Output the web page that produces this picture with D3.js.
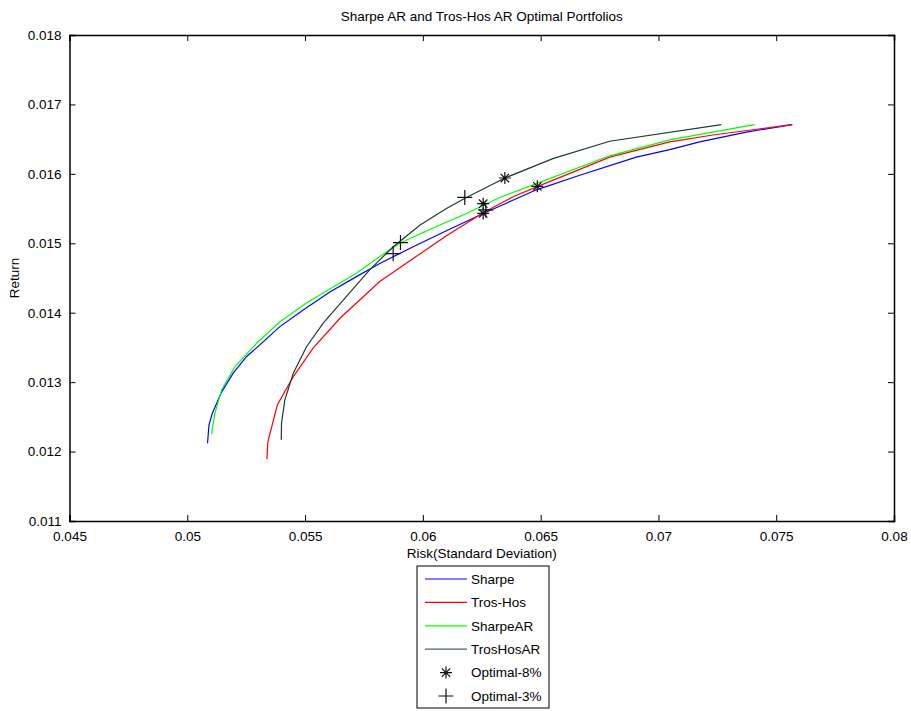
<!DOCTYPE html>
<html>
<head>
<meta charset="utf-8">
<script src="https://cdn.jsdelivr.net/npm/d3@7"></script>
<style>
  body { margin: 0; background: #fff; }
  text { font-family: "Liberation Sans", Arial, sans-serif; }
</style>
</head>
<body>
<div id="chart"></div>
<script>
// frontier curves: [risk, return]
const sharpe = [
  [0.05086, 0.01212], [0.05092, 0.01238], [0.05106, 0.01255], [0.05146, 0.01286],
  [0.05195, 0.01313], [0.05252, 0.01337], [0.05322, 0.01358], [0.05393, 0.0138],
  [0.05492, 0.01404], [0.05605, 0.0143], [0.05718, 0.01452], [0.05817, 0.01471],
  [0.05959, 0.01495], [0.06100, 0.01518], [0.06256, 0.01543], [0.06482, 0.01577],
  [0.06666, 0.01598], [0.06906, 0.01624], [0.07048, 0.01635], [0.07175, 0.01646],
  [0.07373, 0.0166], [0.07568, 0.01671]
];
const trosHos = [
  [0.05338, 0.01189], [0.05342, 0.01214], [0.05382, 0.01267], [0.0545, 0.01308],
  [0.05534, 0.01349], [0.05648, 0.01392], [0.05817, 0.01445], [0.05959, 0.01478],
  [0.061, 0.01511], [0.06256, 0.01544], [0.06383, 0.01567], [0.06496, 0.01583],
  [0.06793, 0.01624], [0.07048, 0.01646], [0.07231, 0.01656], [0.07568, 0.01671]
];
const sharpeAR = [
  [0.05103, 0.01225], [0.05117, 0.01255], [0.05146, 0.01289], [0.05202, 0.01322],
  [0.05294, 0.01356], [0.05393, 0.01387], [0.05506, 0.01414], [0.05605, 0.01434],
  [0.05718, 0.01457], [0.05817, 0.01481], [0.05902, 0.0150], [0.06043, 0.01522],
  [0.06185, 0.01543], [0.06326, 0.01566], [0.06482, 0.01586], [0.06793, 0.01626],
  [0.07048, 0.01649], [0.07408, 0.01671]
];
const trosHosAR = [
  [0.05399, 0.01217], [0.05400, 0.01241], [0.05414, 0.01274], [0.0545, 0.01313],
  [0.05506, 0.01351], [0.05577, 0.01385], [0.05662, 0.01418], [0.05775, 0.01462],
  [0.05874, 0.01495], [0.05987, 0.01526], [0.061, 0.0155], [0.06185, 0.01566],
  [0.06348, 0.01594], [0.06552, 0.01622], [0.06793, 0.01647], [0.07267, 0.01671]
];

// optimal portfolio markers
const optimal8 = [[0.06348, 0.01594], [0.06486, 0.01582], [0.06256, 0.01557], [0.06256, 0.01543]];
const optimal3 = [[0.06178, 0.01566], [0.05905, 0.01501], [0.05874, 0.01485], [0.06267, 0.01548]];

const xTicks = [0.045, 0.05, 0.055, 0.06, 0.065, 0.07, 0.075, 0.08];
const yTicks = [0.011, 0.012, 0.013, 0.014, 0.015, 0.016, 0.017, 0.018];

const series = [
  { name: "Sharpe", data: sharpe, color: "#0000ff" },
  { name: "Tros-Hos", data: trosHos, color: "#ff0000" },
  { name: "SharpeAR", data: sharpeAR, color: "#00ff00" },
  { name: "TrosHosAR", data: trosHosAR, color: "#1e3b2b" }
];

const width = 911, height = 711;
const mLeft = 69.5, mRight = 894, mTop = 35, mBottom = 521;
const fs = 13.5;

const svg = d3.select("#chart").append("svg")
  .attr("width", width)
  .attr("height", height);

const x = d3.scaleLinear().domain([0.045, 0.08]).range([mLeft, mRight]);
const y = d3.scaleLinear().domain([0.011, 0.018]).range([mBottom, mTop]);

// axes, ticks point inward like matlab
svg.append("g")
  .attr("transform", `translate(0,${mBottom})`)
  .call(d3.axisBottom(x).tickValues(xTicks).tickSize(-6).tickPadding(10).tickFormat(d3.format("")))
  .call(g => g.selectAll("text").attr("font-size", fs).attr("fill", "#000"));
svg.append("g")
  .attr("transform", `translate(0,${mTop})`)
  .call(d3.axisTop(x).tickValues(xTicks).tickSize(-6).tickFormat(""));
svg.append("g")
  .attr("transform", `translate(${mLeft},0)`)
  .call(d3.axisLeft(y).tickValues(yTicks).tickSize(-6).tickPadding(8).tickFormat(d3.format("")))
  .call(g => g.selectAll("text").attr("font-size", fs).attr("fill", "#000"));
svg.append("g")
  .attr("transform", `translate(${mRight},0)`)
  .call(d3.axisRight(y).tickValues(yTicks).tickSize(-6).tickFormat(""));

svg.selectAll(".domain").attr("stroke", "#000").attr("stroke-width", 1.5);
svg.selectAll(".tick line").attr("stroke", "#000");

const line = d3.line().x(d => x(d[0])).y(d => y(d[1]));

svg.append("g")
  .selectAll("path")
  .data(series)
  .enter()
  .append("path")
  .attr("d", d => line(d.data))
  .attr("fill", "none")
  .attr("stroke", d => d.color)
  .attr("stroke-width", 1.2);

// marker shapes
function asterisk(g, r) {
  g.append("path")
    .attr("d", `M${-r},0H${r}M0,${-r}V${r}M${-r * 0.7},${-r * 0.7}L${r * 0.7},${r * 0.7}M${-r * 0.7},${r * 0.7}L${r * 0.7},${-r * 0.7}`)
    .attr("stroke", "#111")
    .attr("stroke-width", 1.2)
    .attr("fill", "none");
}
function plus(g, r) {
  g.append("path")
    .attr("d", `M${-r},0H${r}M0,${-r}V${r}`)
    .attr("stroke", "#111")
    .attr("stroke-width", 1.2)
    .attr("fill", "none");
}

svg.append("g").selectAll("g")
  .data(optimal8)
  .enter().append("g")
  .attr("transform", d => `translate(${x(d[0])},${y(d[1])})`)
  .each(function() { asterisk(d3.select(this), 6); });

svg.append("g").selectAll("g")
  .data(optimal3)
  .enter().append("g")
  .attr("transform", d => `translate(${x(d[0])},${y(d[1])})`)
  .each(function() { plus(d3.select(this), 7.5); });

// title and axis labels
svg.append("text")
  .attr("x", (mLeft + mRight) / 2)
  .attr("y", 21)
  .attr("text-anchor", "middle")
  .attr("font-size", fs)
  .text("Sharpe AR and Tros-Hos AR Optimal Portfolios");

svg.append("text")
  .attr("x", (mLeft + mRight) / 2)
  .attr("y", 558)
  .attr("text-anchor", "middle")
  .attr("font-size", fs)
  .text("Risk(Standard Deviation)");

svg.append("text")
  .attr("transform", `translate(19,${(mTop + mBottom) / 2}) rotate(-90)`)
  .attr("text-anchor", "middle")
  .attr("font-size", fs)
  .text("Return");

// legend
const legend = svg.append("g").attr("transform", "translate(417,566)");
legend.append("rect")
  .attr("width", 132)
  .attr("height", 142)
  .attr("fill", "#fff")
  .attr("stroke", "#000")
  .attr("stroke-width", 1);

const rowH = 23.4;
const items = series.map(s => ({ name: s.name, color: s.color, type: "line" }))
  .concat([{ name: "Optimal-8%", type: "asterisk" }, { name: "Optimal-3%", type: "plus" }]);

items.forEach((it, i) => {
  const cy = 13 + i * rowH;
  const row = legend.append("g").attr("transform", `translate(0,${cy})`);
  if (it.type === "line") {
    row.append("line")
      .attr("x1", 8).attr("x2", 50)
      .attr("stroke", it.color === "#1e3b2b" ? "#4d6355" : it.color)
      .attr("stroke-width", 1.2);
  } else {
    const m = row.append("g").attr("transform", "translate(29,0)");
    if (it.type === "asterisk") asterisk(m, 6); else plus(m, 7.5);
  }
  row.append("text")
    .attr("x", 54)
    .attr("dy", "0.35em")
    .attr("font-size", fs)
    .text(it.name);
});
</script>
</body>
</html>
